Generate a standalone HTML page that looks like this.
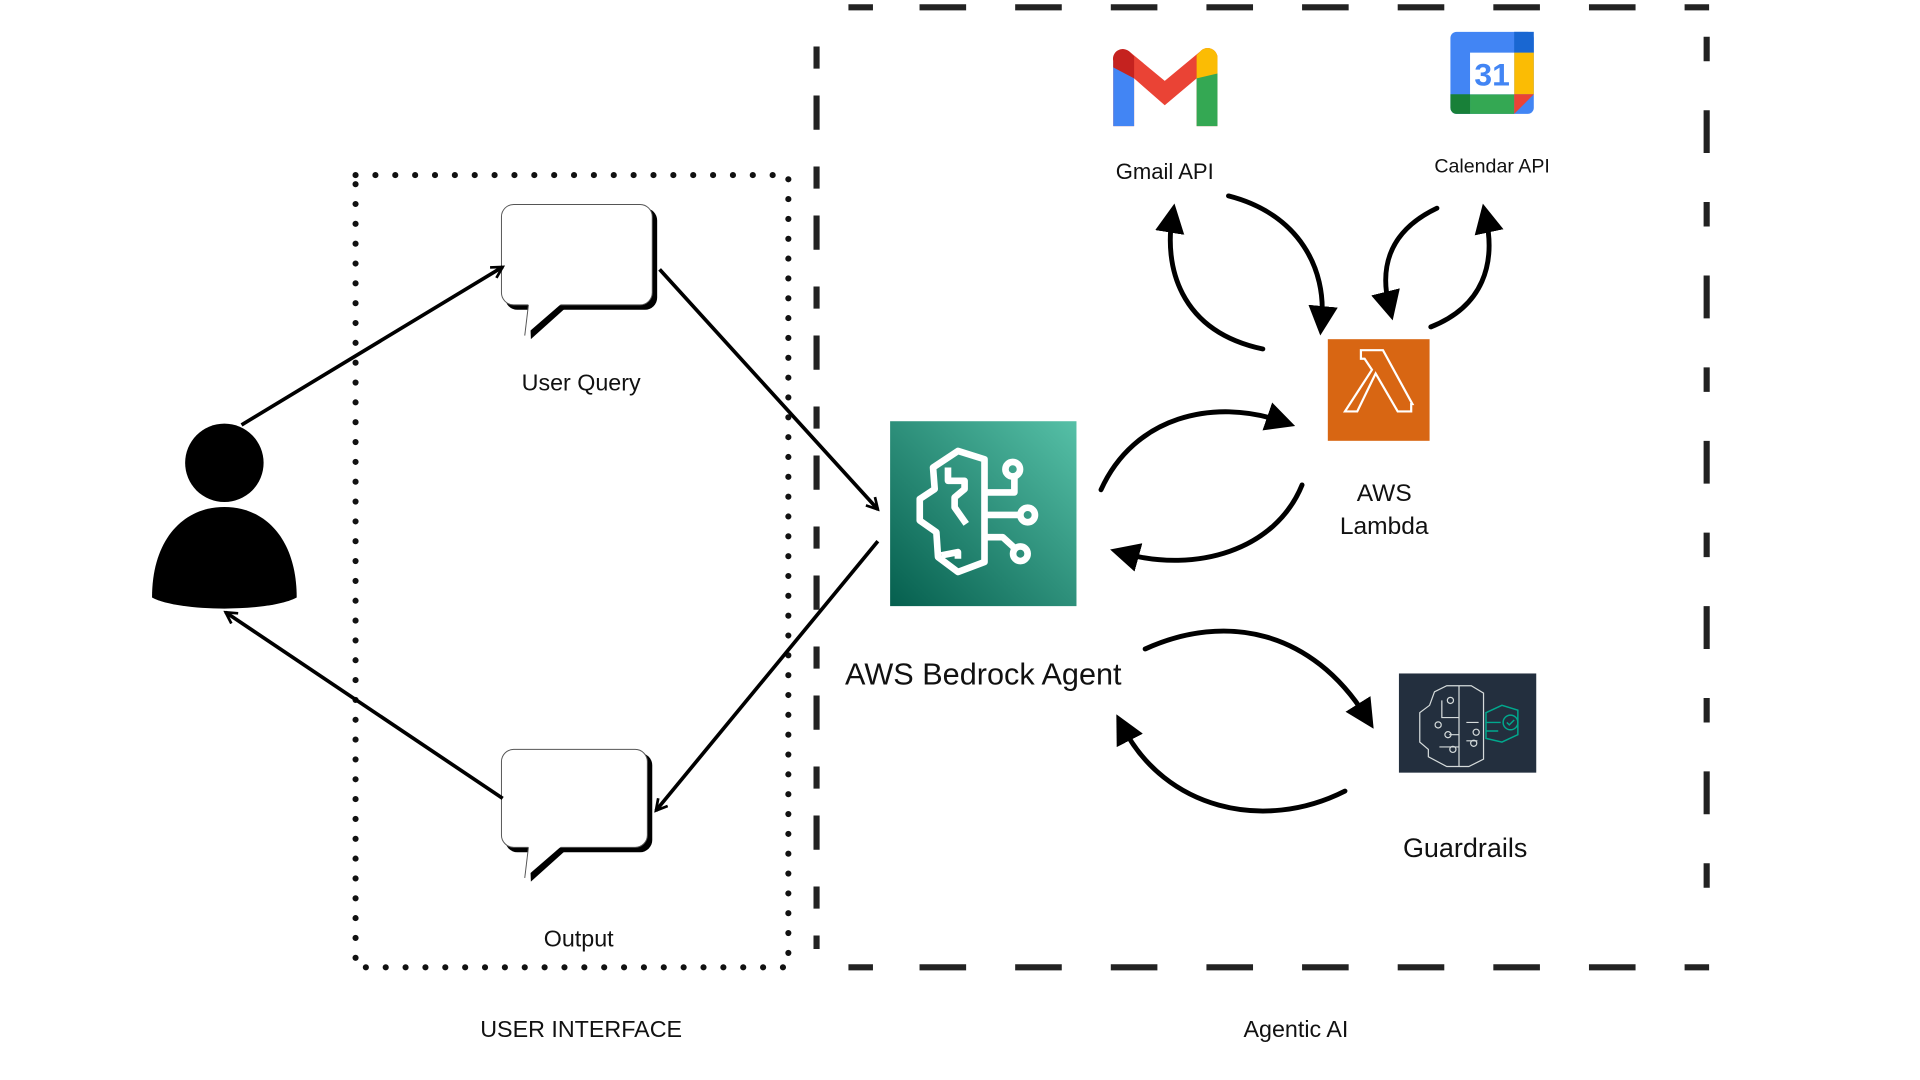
<!DOCTYPE html>
<html><head><meta charset="utf-8"><style>
html,body{margin:0;padding:0;background:#fff;width:1920px;height:1080px;overflow:hidden}
svg{display:block}
text{font-family:"Liberation Sans",sans-serif;fill:#111}
</style></head><body>
<svg width="1920" height="1080" viewBox="0 0 1566 882" preserveAspectRatio="none" xmlns="http://www.w3.org/2000/svg">
<defs>
<marker id="open" viewBox="0 0 12 12" refX="10" refY="6" markerWidth="12" markerHeight="12" markerUnits="userSpaceOnUse" orient="auto">
<path d="M1,1 L10,6 L1,11" fill="none" stroke="#000" stroke-width="2.2"/></marker>
<marker id="fill" viewBox="0 0 12 12" refX="6" refY="6" markerWidth="6" markerHeight="6" orient="auto">
<path d="M0,0 L12,6 L0,12 Z" fill="#000"/></marker>
<linearGradient id="bg" x1="0" y1="1" x2="1" y2="0"><stop offset="0" stop-color="#055f4e"/><stop offset="1" stop-color="#56c0a7"/></linearGradient>
</defs>

<rect x="290" y="143" width="353" height="647" fill="none" stroke="#111" stroke-width="5" stroke-linecap="round" stroke-dasharray="0 16.2"/>
<g stroke="#222" stroke-width="5" fill="none">
<path d="M692,6 H1394" stroke-dasharray="20 38 38 40 38 40 38 40 38 40 38 40 38 40 38 40 38 40 38 40" />
<path d="M692,790 H1394" stroke-dasharray="20 38 38 40 38 40 38 40 38 40 38 40 38 40 38 40 38 40 38 40" />
<path d="M666,38 V775" stroke-dasharray="18 22 28 30"/>
<path d="M1392,30 V765" stroke-dasharray="20 40 35 40" />
</g>

<circle cx="183" cy="378" r="32" fill="#000"/>
<path d="M124,488 C124,440 150,414 183,414 C216,414 242,440 242,488 C220,500 146,500 124,488 Z" fill="#000"/>

<g>
<rect x="412" y="170" width="124" height="83" rx="10" fill="#000"/>
<path d="M432,250 L463,250 L433,277 Z" fill="#000"/>
<rect x="409" y="167" width="123" height="82" rx="10" fill="#fff" stroke="#555" stroke-width="0.8"/>
<path d="M431,248 L428,274 L458,248 Z" fill="#fff"/>
<path d="M431,249 L428,274" stroke="#555" stroke-width="0.8"/>
<rect x="412" y="615" width="120" height="81" rx="10" fill="#000"/>
<path d="M432,693 L463,693 L433,720 Z" fill="#000"/>
<rect x="409" y="612" width="119" height="80" rx="10" fill="#fff" stroke="#555" stroke-width="0.8"/>
<path d="M431,691 L428,717 L458,691 Z" fill="#fff"/>
<path d="M431,692 L428,717" stroke="#555" stroke-width="0.8"/>
</g>
<text x="474" y="319" font-size="19" text-anchor="middle">User Query</text>
<text x="472" y="773" font-size="19" text-anchor="middle">Output</text>

<g stroke="#000" stroke-width="3" fill="none" marker-end="url(#open)">
<path d="M197,347 L410,218"/>
<path d="M538,220 L716,416"/>
<path d="M716,442 L535,662"/>
<path d="M410,652 L184,500"/>
</g>

<rect x="726" y="344" width="152" height="151" fill="url(#bg)"/>
<g transform="translate(723.1,341.2) scale(0.2708)" stroke="#fff" stroke-width="20" fill="none" stroke-linejoin="round">
<path d="M215,100 L295,125 L295,435 L215,465 L155,420 L150,345 L100,310 L100,245 L145,215 L140,150 Z"/>
<path d="M185,150 V190 H235 V215 L205,240 V270 L240,320"/>
<path d="M165,415 L215,405 V425"/>
<path d="M295,225 H385 V177"/>
<circle cx="380" cy="155" r="22"/>
<path d="M295,293 H403"/>
<circle cx="425" cy="293" r="22"/>
<path d="M295,360 H350 L385,392"/>
<circle cx="403" cy="410" r="22"/>
</g>
<text x="802" y="559" font-size="25" text-anchor="middle">AWS Bedrock  Agent</text>

<rect x="1083" y="277" width="83" height="83" fill="#d86613"/>
<path d="M1110,286 H1128 L1152,330 H1151 V336 H1140 L1122,305 L1107,336 H1097 L1119,302 L1113,293 H1110 Z" fill="none" stroke="#fff" stroke-width="1.8"/>
<text x="1129" y="409" font-size="20" text-anchor="middle">AWS</text>
<text x="1129" y="436" font-size="20" text-anchor="middle">Lambda</text>

<g>
<path d="M908,48 a8,8 0 0 1 13,-6 L950,66 L979,42 a8,8 0 0 1 14,6 V103 H976 V64 L950,86 L925,64 V103 H908 Z" fill="#ea4335"/>
<path d="M908,50 V103 H925 V62 Z" fill="#4285f4"/>
<path d="M993,50 V103 H976 V62 Z" fill="#34a853"/>
<path d="M979,42 a8,8 0 0 1 14,6 V60 L976,64 V45 Z" fill="#fbbc04"/>
<path d="M908,50 a8,8 0 0 1 13,-8 L925,46 V64 L908,55 Z" fill="#c5221f"/>
</g>
<text x="950" y="146" font-size="18" text-anchor="middle">Gmail API</text>

<g>
<rect x="1183" y="26" width="68" height="67" rx="5" fill="#4285f4"/>
<rect x="1235" y="26" width="16" height="17" fill="#1967d2"/>
<rect x="1235" y="43" width="16" height="34" fill="#fbbc04"/>
<rect x="1199" y="77" width="36" height="16" fill="#34a853"/>
<path d="M1183,77 H1199 V93 H1188 a5,5 0 0 1 -5,-5 Z" fill="#188038"/>
<path d="M1235,77 H1251 L1235,93 Z" fill="#ea4335"/>
<rect x="1199" y="43" width="36" height="34" fill="#fff"/>
<text x="1217" y="70" font-size="26" font-weight="bold" text-anchor="middle" style="fill:#4285f4">31</text>
</g>
<text x="1217" y="141" font-size="16" text-anchor="middle">Calendar API</text>

<rect x="1141" y="550" width="112" height="81" fill="#232f3e"/>
<g stroke="#d5dbdb" stroke-width="1" fill="none">
<path d="M1170,565 L1180,560 H1200 L1210,566 V620 L1198,626 H1180 L1165,618 V612 L1158,606 V582 L1166,576 Z"/>
<path d="M1190,560 V626 M1176,572 V586 H1190 M1182,600 H1190 M1174,610 H1190 M1196,590 H1206 M1196,605 H1205"/>
<circle cx="1183" cy="572" r="2.5"/><circle cx="1173" cy="592" r="2.5"/><circle cx="1181" cy="600" r="2.5"/><circle cx="1185" cy="612" r="2.5"/><circle cx="1204" cy="598" r="2.5"/><circle cx="1202" cy="607" r="2.5"/>
</g>
<g stroke="#01a88d" stroke-width="1.2" fill="none">
<path d="M1212,582 L1225,576 L1238,580 V600 L1225,606 L1212,603 Z"/>
<path d="M1212,590 H1224 M1212,597 H1222"/>
<circle cx="1232" cy="590" r="6"/><path d="M1229,590 l2,2 l4,-4"/>
</g>
<text x="1195" y="700" font-size="22" text-anchor="middle">Guardrails</text>

<g stroke="#000" stroke-width="4" fill="none" marker-end="url(#fill)" stroke-linecap="round">
<path d="M1030,285 C960,270 950,215 956,178"/>
<path d="M1002,160 C1060,175 1082,220 1078,262"/>
<path d="M1172,170 C1130,190 1126,222 1133,250"/>
<path d="M1167,267 C1210,250 1220,215 1212,178"/>
<path d="M898,400 C925,340 990,325 1045,344"/>
<path d="M1062,396 C1040,450 975,468 917,452"/>
<path d="M934,530 C1000,500 1070,515 1114,585"/>
<path d="M1097,646 C1030,680 950,660 916,594"/>
</g>

<text x="474" y="847" font-size="19" text-anchor="middle">USER INTERFACE</text>
<text x="1057" y="847" font-size="19" text-anchor="middle">Agentic AI</text>
</svg>
</body></html>
